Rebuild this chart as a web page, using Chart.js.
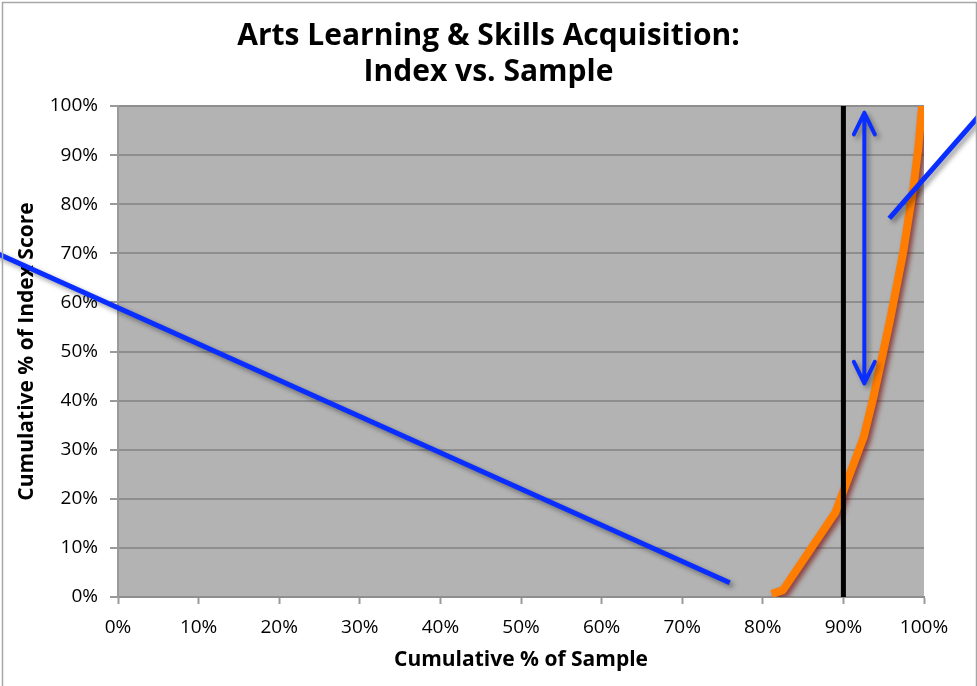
<!DOCTYPE html>
<html>
<head>
<meta charset="utf-8">
<title>Arts Learning & Skills Acquisition</title>
<script src="https://cdn.jsdelivr.net/npm/chart.js@4.4.1/dist/chart.umd.min.js"></script>
<style>
  html, body { margin: 0; padding: 0; background: #fff; }
  #wrap { width: 977px; height: 686px; position: relative; }
</style>
</head>
<body>
<div id="wrap"><canvas id="chart"></canvas></div>
<script>
// Cumulative curve: % of sample vs % of index score
const sampleCum = [81.1, 82.5, 89.0, 92.5, 93.7, 95.8, 97.4, 98.7, 99.3, 99.8];
const indexCum  = [0.6, 1.4, 17.2, 32.5, 40.5, 56.5, 70.0, 83.6, 91.5, 100.5];

// 90% cut-off marker
const cutoffX = [90, 90];
const cutoffY = [0, 100];

// double arrow (x position, head width, tip values)
const arrowX = 92.6;
const arrowHalfWidth = 1.3;
const arrowTop = 98.6;
const arrowBottom = 43.5;
const arrowHeadLen = 4.4;

// pointer lines drawn over the chart
const pointerLeftX = [-16, 75.9];
const pointerLeftY = [70.7, 2.9];
const pointerRightX = [95.7, 108];
const pointerRightY = [77.1, 100.2];

const tickStep = 10;

const toPoints = (xs, ys) => xs.map((x, i) => ({ x: x, y: ys[i] }));

const arrowPoints = [
  { x: arrowX - arrowHalfWidth, y: arrowTop - arrowHeadLen },
  { x: arrowX, y: arrowTop },
  { x: arrowX + arrowHalfWidth, y: arrowTop - arrowHeadLen },
  { x: arrowX, y: null },
  { x: arrowX, y: arrowTop },
  { x: arrowX, y: arrowBottom },
  { x: arrowX, y: null },
  { x: arrowX - arrowHalfWidth, y: arrowBottom + arrowHeadLen },
  { x: arrowX, y: arrowBottom },
  { x: arrowX + arrowHalfWidth, y: arrowBottom + arrowHeadLen }
];

const BLUE = '#0a2eff';

// grey plot background and outer frame
const backdrop = {
  id: 'backdrop',
  beforeDraw(chart) {
    const { ctx, chartArea: a } = chart;
    ctx.save();
    ctx.fillStyle = '#b3b3b3';
    ctx.fillRect(a.left, a.top, a.right - a.left, a.bottom - a.top);
    ctx.restore();
  },
  afterDraw(chart) {
    const ctx = chart.ctx;
    ctx.save();
    ctx.strokeStyle = '#a6a6a6';
    ctx.lineWidth = 1.5;
    ctx.strokeRect(2.5, 2.5, 974, 700);
    ctx.restore();
  }
};

// soft drop shadows like the office chart
const shadows = {
  id: 'shadows',
  beforeDatasetDraw(chart, args) {
    const ds = chart.data.datasets[args.index];
    const ctx = chart.ctx;
    ctx.save();
    if (ds.shadowColor) {
      ctx.shadowColor = ds.shadowColor;
      ctx.shadowBlur = 5;
      ctx.shadowOffsetX = 3;
      ctx.shadowOffsetY = 3;
    }
  },
  afterDatasetDraw(chart) {
    chart.ctx.restore();
  }
};

Chart.defaults.font.family = "'Open Sans', sans-serif";
Chart.defaults.color = '#000';

new Chart(document.getElementById('chart'), {
  type: 'line',
  data: {
    datasets: [
      {
        label: 'Index vs. Sample',
        data: toPoints(sampleCum, indexCum),
        borderColor: '#ff7d00',
        borderWidth: 8,
        pointRadius: 0,
        tension: 0,
        borderJoinStyle: 'round',
        shadowColor: 'rgba(120, 15, 15, 0.7)',
        order: 4
      },
      {
        label: '90%',
        data: toPoints(cutoffX, cutoffY),
        borderColor: '#000',
        borderWidth: 5,
        pointRadius: 0,
        order: 3
      },
      {
        label: 'arrow',
        data: arrowPoints,
        borderColor: BLUE,
        borderWidth: 4,
        pointRadius: 0,
        spanGaps: false,
        borderCapStyle: 'round',
        borderJoinStyle: 'round',
        shadowColor: 'rgba(0, 0, 0, 0.35)',
        order: 2
      },
      {
        label: 'left pointer',
        data: toPoints(pointerLeftX, pointerLeftY),
        borderColor: BLUE,
        borderWidth: 5,
        pointRadius: 0,
        clip: false,
        shadowColor: 'rgba(0, 0, 0, 0.4)',
        order: 1
      },
      {
        label: 'right pointer',
        data: toPoints(pointerRightX, pointerRightY),
        borderColor: BLUE,
        borderWidth: 5,
        pointRadius: 0,
        clip: false,
        shadowColor: 'rgba(0, 0, 0, 0.4)',
        order: 1
      }
    ]
  },
  options: {
    responsive: true,
    maintainAspectRatio: false,
    animation: false,
    layout: { padding: 0 },
    plugins: {
      legend: { display: false },
      tooltip: { enabled: false },
      title: {
        display: true,
        text: ['Arts Learning & Skills Acquisition:', 'Index vs. Sample'],
        font: { size: 30, weight: 'bold' },
        lineHeight: 1.2,
        padding: { top: 18, bottom: 16 }
      }
    },
    scales: {
      x: {
        type: 'linear',
        min: 0,
        max: 100,
        afterFit(scale) { scale.height = 89; },
        ticks: {
          stepSize: tickStep,
          padding: 12,
          font: { size: 19 },
          callback: (v) => v + '%'
        },
        grid: {
          drawOnChartArea: false,
          drawTicks: true,
          tickLength: 7,
          tickColor: '#9a9a9a',
          tickWidth: 2
        },
        border: { color: '#8e8e8e', width: 2 },
        title: {
          display: true,
          text: 'Cumulative % of Sample',
          font: { size: 21, weight: 'bold' },
          padding: { top: 0, bottom: 13 }
        }
      },
      y: {
        type: 'linear',
        min: 0,
        max: 100,
        afterFit(scale) { scale.width = 118; },
        ticks: {
          stepSize: tickStep,
          padding: 12,
          font: { size: 19 },
          callback: (v) => v + '%'
        },
        grid: {
          color: '#8e8e8e',
          lineWidth: 2,
          tickLength: 8,
          tickColor: '#9a9a9a',
          tickWidth: 2
        },
        border: { color: '#9a9a9a', width: 2 },
        title: {
          display: true,
          text: 'Cumulative % of Index Score',
          font: { size: 21, weight: 'bold' },
          padding: { top: 14, bottom: 0 }
        }
      },
      // empty right-hand gutter so the title centres on the whole frame
      gutter: {
        type: 'linear',
        position: 'right',
        min: 0,
        max: 100,
        afterFit(scale) { scale.width = 53; },
        ticks: { display: false },
        grid: { display: false, drawTicks: false },
        border: { display: false }
      }
    }
  },
  plugins: [backdrop, shadows]
});
</script>
</body>
</html>
